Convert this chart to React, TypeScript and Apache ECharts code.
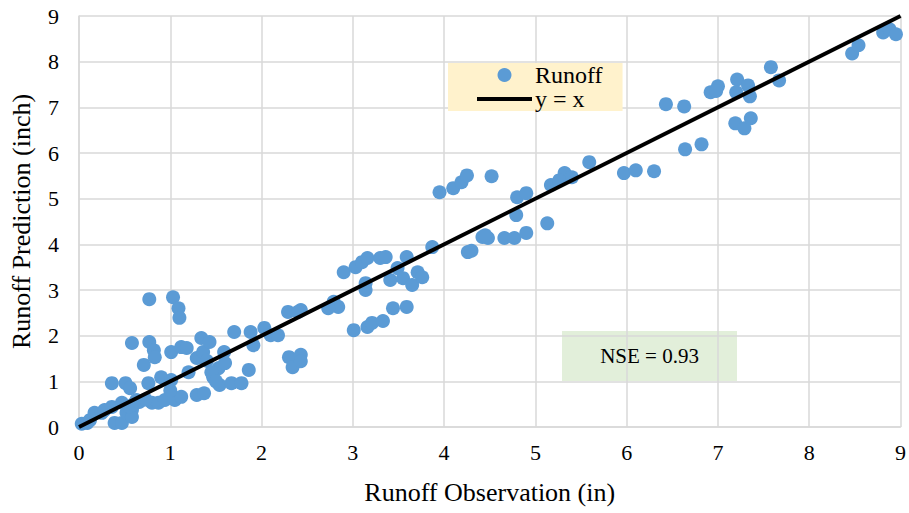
import React, { useEffect, useRef } from "react";
import * as echarts from "echarts";

const obsValues: number[] = [
  0.03, 0.09, 0.12, 0.17, 0.25, 0.28, 0.36, 0.36, 0.39, 0.47, 0.47, 0.51, 0.52, 0.56, 0.58, 0.58, 0.58, 0.63,
  0.71, 0.76, 0.77, 0.77, 0.80, 0.82, 0.83, 0.87, 0.90, 0.94, 1.01, 1.01, 1.03, 1.05, 1.09, 1.10, 1.12, 1.12,
  1.18, 1.29, 1.29, 1.34, 1.36, 1.37, 1.43, 1.47, 1.53, 1.54, 1.59, 1.67, 1.70, 1.78, 1.86, 1.88, 1.91, 2.03,
  2.10, 2.18, 2.29, 2.43, 2.30, 2.34, 2.43, 2.43, 0.55, 0.60, 0.66, 0.73, 1.20, 1.40, 1.45, 1.50, 1.00, 1.60,
  2.90, 3.03, 3.10, 3.16, 3.14, 3.14, 3.30, 3.36, 3.41, 3.49, 3.55, 3.59, 3.65, 3.71, 3.76, 3.87, 2.79, 2.84,
  2.73, 2.40, 3.01, 3.16, 3.21, 3.33, 3.44, 3.59, 3.95, 4.10, 4.19, 4.25, 4.52, 4.26, 4.42, 4.48, 4.66, 4.77,
  4.90, 4.79, 4.80, 4.90, 5.13, 5.17, 5.32, 5.40, 5.59, 5.97, 6.10, 4.30, 4.45, 6.30, 6.43, 6.63, 6.64, 6.82,
  6.92, 7.00, 6.98, 7.21, 7.20, 7.33, 7.35, 7.19, 7.29, 7.36, 7.58, 7.67, 8.47, 8.54, 8.81, 8.88, 8.95, 5.26,
];

const predValues: number[] = [
  0.07, 0.09, 0.15, 0.31, 0.31, 0.37, 0.44, 0.96, 0.09, 0.09, 0.53, 0.96, 0.31, 0.85, 0.37, 0.22, 1.84, 0.59,
  1.36, 0.96, 1.86, 2.80, 0.53, 1.68, 1.53, 0.53, 1.09, 0.59, 1.03, 1.64, 2.84, 0.59, 2.60, 2.39, 1.75, 0.66,
  1.73, 1.51, 0.70, 1.95, 1.64, 0.74, 1.86, 1.09, 1.29, 0.92, 1.64, 0.96, 2.08, 0.96, 1.25, 2.08, 1.79, 2.17,
  2.01, 2.01, 2.52, 2.56, 1.53, 1.31, 1.58, 1.44, 0.45, 0.50, 0.55, 0.60, 1.20, 1.45, 1.20, 1.00, 0.80, 1.40,
  3.39, 3.50, 3.61, 3.70, 3.15, 3.00, 3.70, 3.72, 3.22, 3.48, 3.26, 3.72, 3.11, 3.39, 3.28, 3.94, 2.74, 2.63,
  2.60, 2.52, 2.12, 2.19, 2.28, 2.32, 2.60, 2.63, 5.14, 5.23, 5.36, 5.51, 5.49, 3.83, 4.16, 4.14, 4.14, 4.14,
  4.25, 4.64, 5.03, 5.12, 4.46, 5.30, 5.56, 5.47, 5.80, 5.56, 5.62, 3.86, 4.20, 5.60, 7.07, 7.02, 6.08, 6.19,
  7.33, 7.46, 7.36, 7.61, 7.33, 7.48, 7.24, 6.65, 6.54, 6.76, 7.88, 7.59, 8.18, 8.36, 8.64, 8.71, 8.60, 5.40,
];

const lineX: number[] = [0, 9];
const lineY: number[] = [0, 9];

const tickValues: number[] = [0, 1, 2, 3, 4, 5, 6, 7, 8, 9];

const seriesNames = ["Runoff", "y = x"];
const xTitle = "Runoff Observation (in)";
const yTitle = "Runoff Prediction (inch)";
const nseText = "NSE = 0.93";

const FONT = "Liberation Serif";

export default function App() {
  const ref = useRef<HTMLDivElement>(null);
  useEffect(() => {
    if (!ref.current) return;
    const chart = echarts.init(ref.current, undefined, { renderer: "svg" });
    const scatterData = obsValues.map((x, i) => [x, predValues[i]]);
    const lineData = lineX.map((x, i) => [x, lineY[i]]);
    const axisCommon = {
      type: "value" as const,
      min: tickValues[0],
      max: tickValues[tickValues.length - 1],
      interval: 1,
      axisLine: { show: true, lineStyle: { color: "#D9D9D9", width: 1.5 } },
      axisTick: { show: false },
      splitLine: { show: true, lineStyle: { color: "#D9D9D9", width: 1.5 } },
      nameLocation: "middle" as const,
      nameTextStyle: { fontFamily: FONT, fontSize: 26, color: "#000" },
    };
    chart.setOption({
      animation: false,
      backgroundColor: "#fff",
      grid: { left: 77, right: 6, top: 16, bottom: 86, containLabel: false },
      xAxis: {
        ...axisCommon,
        name: xTitle,
        nameGap: 52,
        axisLabel: { fontFamily: FONT, fontSize: 22, color: "#000", margin: 14 },
      },
      yAxis: {
        ...axisCommon,
        name: yTitle,
        nameGap: 45,
        axisLabel: { fontFamily: FONT, fontSize: 22, color: "#000", margin: 20 },
      },
      legend: {
        orient: "vertical",
        left: 448,
        top: 63,
        backgroundColor: "#FFF2CC",
        padding: [0, 20, 0, 27],
        itemGap: 0,
        itemWidth: 55,
        itemHeight: 14,
        textStyle: { fontFamily: FONT, fontSize: 24, color: "#000", padding: [0, 0, 0, -2] },
        data: [
          { name: seriesNames[0] },
          { name: seriesNames[1], itemStyle: { opacity: 0 }, lineStyle: { color: "#000", width: 4 } },
        ],
      },
      graphic: [
        {
          type: "group",
          left: 562,
          top: 331,
          children: [
            { type: "rect", shape: { x: 0, y: 0, width: 175, height: 50 }, style: { fill: "#E2EFDA" } },
            {
              type: "text",
              x: 87.5,
              y: 25,
              style: {
                text: nseText,
                fontFamily: FONT,
                fontSize: 21,
                fill: "#000",
                align: "center",
                verticalAlign: "middle",
              },
            },
          ],
        },
      ],
      series: [
        {
          name: seriesNames[0],
          type: "scatter",
          data: scatterData,
          symbol: "circle",
          symbolSize: 14,
          itemStyle: { color: "#5B9BD5", opacity: 1 },
          z: 2,
        },
        {
          name: seriesNames[1],
          type: "line",
          data: lineData,
          showSymbol: false,
          symbol: "none",
          lineStyle: { color: "#000", width: 4 },
          itemStyle: { color: "#000" },
          z: 3,
        },
      ],
    });
    return () => chart.dispose();
  }, []);
  return (
    <div
      ref={ref}
      style={{ position: "fixed", left: 0, top: 0, width: 909, height: 513 }}
    />
  );
}
